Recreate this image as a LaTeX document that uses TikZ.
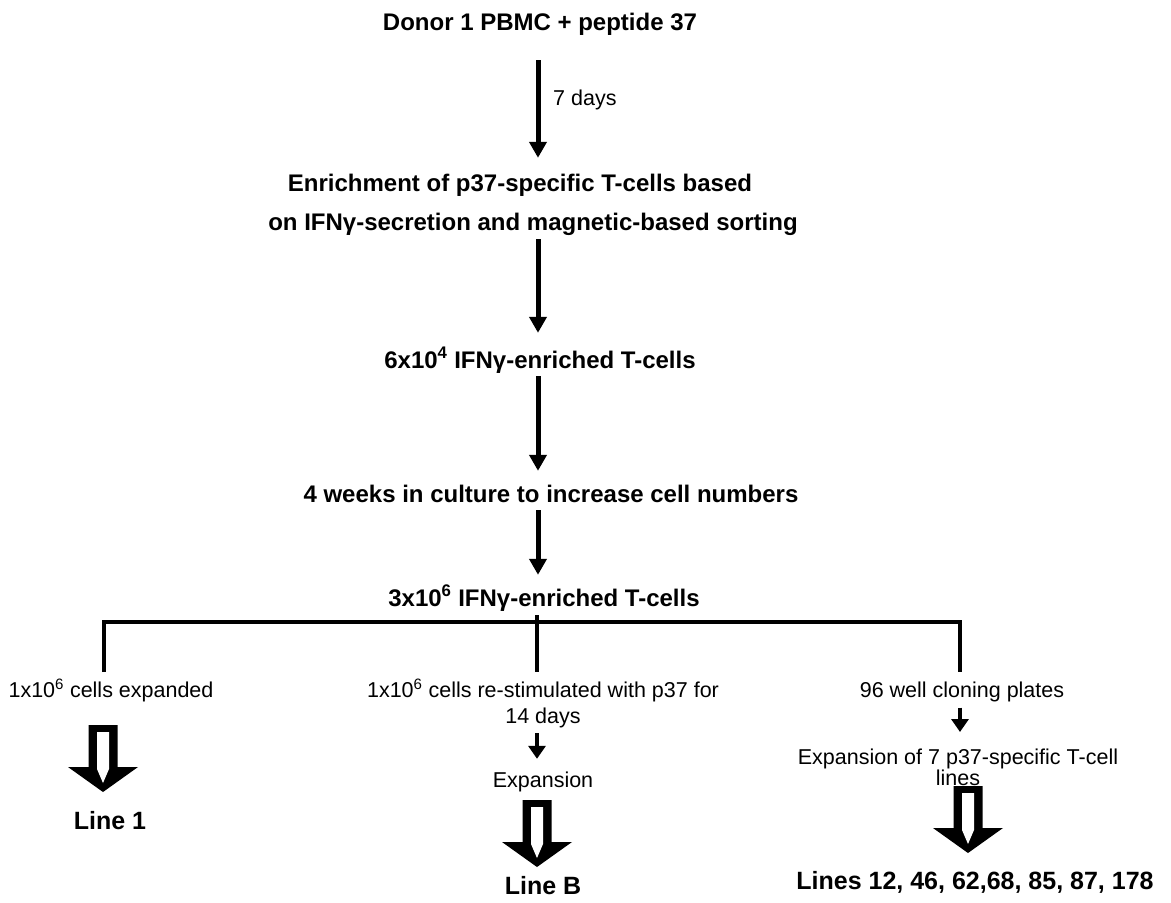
\documentclass[tikz,border=0pt]{standalone}
\usepackage{fontspec}
\setmainfont{Liberation Sans}
\usetikzlibrary{arrows.meta}

\tikzset{
  bold/.style={font=\fontsize{24}{28}\selectfont\bfseries, inner sep=0pt, text height=17pt, text depth=5pt},
  plain/.style={font=\fontsize{21.5}{25}\selectfont, inner sep=0pt, text height=16pt, text depth=5pt},
  result/.style={font=\fontsize{25}{29}\selectfont\bfseries, inner sep=0pt},
  flow/.style={line width=5pt, -{Triangle[length=16pt,width=17pt]}},
  small/.style={line width=4pt, -{Triangle[length=13pt,width=17pt]}},
  bar/.style={line width=4pt},
  fatarrow/.pic={
    \fill (-14.5,0) -- (14.5,0) -- (14.5,42) -- (35,42) -- (0,67) -- (-35,42) -- (-14.5,42) -- cycle;
    \fill[white] (-6,7) -- (6,7) -- (6,44) -- (0,58) -- (-6,44) -- cycle;
  }
}

\begin{document}
\begin{tikzpicture}[x=1pt,y=-1pt]
  \useasboundingbox (0,0) rectangle (1171,903);
  % main column
  \node[bold] (donor) at (540,24) {Donor 1 PBMC + peptide 37};
  \node[bold] (enrich) at (520,185) {Enrichment of p37-specific T-cells based};
  \node[bold] (sort) at (533,224) {on IFNγ-secretion and magnetic-based sorting};
  \node[bold] (six) at (540,362) {6x10\textsuperscript{4} IFNγ-enriched T-cells};
  \node[bold] (weeks) at (551,496) {4 weeks in culture to increase cell numbers};
  \node[bold] (three) at (544,600) {3x10\textsuperscript{6} IFNγ-enriched T-cells};
  \coordinate (ax) at (538,0);
  \draw[flow] ([yshift=-25pt]donor.south -| ax) -- ([yshift=16pt]enrich.north -| ax);
  \node[plain, anchor=west] (days) at (553,100) {7 days};
  \draw[flow] ([yshift=-4pt]sort.south -| ax) -- ([yshift=18pt]six.north -| ax);
  \draw[flow] ([yshift=-3pt]six.south -| ax) -- ([yshift=14pt]weeks.north -| ax);
  \draw[flow] ([yshift=-3pt]weeks.south -| ax) -- ([yshift=14pt]three.north -| ax);
  % split
  \coordinate (lend) at (104,672);
  \coordinate (mend) at (537,672);
  \coordinate (rend) at (960,672);
  \coordinate (split) at (537,622);
  \draw[bar] ([yshift=-4pt]three.south -| mend) -- (mend);
  \draw[bar, line join=miter] (lend) -- (lend |- split) -- (rend |- split) -- (rend);
  % left branch
  \node[plain] (left) at (111,692) {1x10\textsuperscript{6} cells expanded};
  \pic at (103,725) {fatarrow};
  \node[result] (line1) at (110,821) {Line 1};
  % middle branch
  \node[plain] (mid) at (543,692) {1x10\textsuperscript{6} cells re-stimulated with p37 for};
  \node[plain] (days14) at (543,718) {14 days};
  \node[plain] (expa) at (543,782) {Expansion};
  \draw[small] ([yshift=-4.5pt]days14.south -| mend) -- ([yshift=12.5pt]expa.north -| mend);
  \pic at (537,800) {fatarrow};
  \node[result] (lineb) at (543,886) {Line B};
  % right branch
  \node[plain] (right) at (962,692) {96 well cloning plates};
  \node[plain, align=center, anchor=north, font=\fontsize{21.5}{12}\selectfont, text height=, text depth=] (exp7) at (958,749) {Expansion of 7 p37-specific T-cell\\lines};
  \draw[small] ([yshift=-5pt]right.south -| rend) -- ([yshift=17pt]exp7.north -| rend);
  \pic at (968,786) {fatarrow};
  \node[result] (lines) at (975,882) {Lines 12, 46, 62,68, 85, 87, 178};
\end{tikzpicture}
\end{document}
